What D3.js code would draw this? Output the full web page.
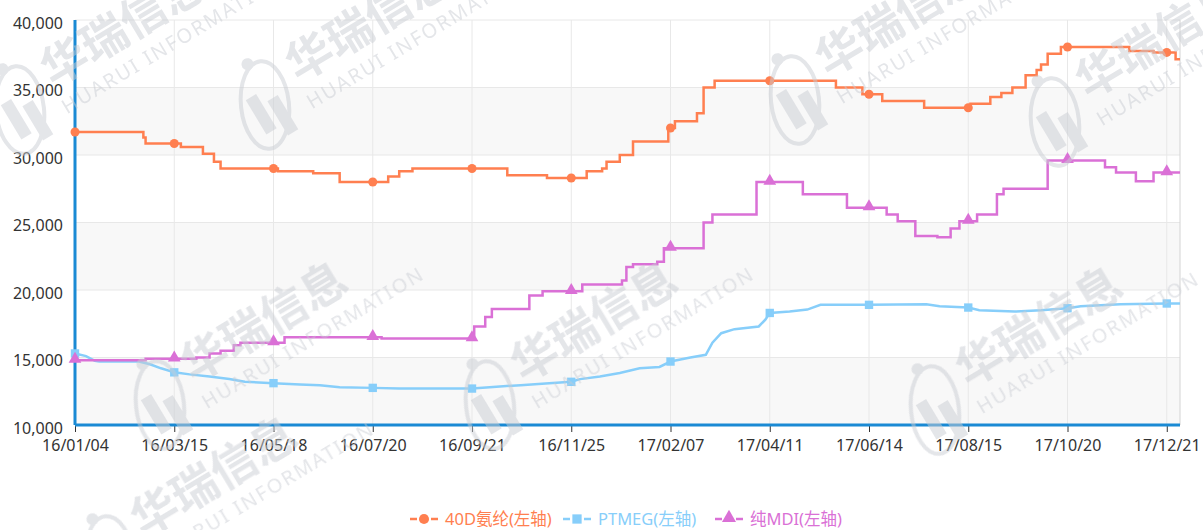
<!DOCTYPE html>
<html>
<head>
<meta charset="utf-8">
<script src="https://cdn.jsdelivr.net/npm/d3@7/dist/d3.min.js"></script>
<style>
	body { margin: 0; background: #fff; }
	text { font-family: "Noto Sans", "Noto Sans CJK SC", sans-serif; }
</style>
</head>
<body>
<div id="chart"></div>
<script>

// category labels shown under the x axis (one every 45 trading days)
let xLabels = ["16/01/04", "16/03/15", "16/05/18", "16/07/20", "16/09/21", "16/11/25",
	"17/02/07", "17/04/11", "17/06/14", "17/08/15", "17/10/20", "17/12/21"];
let pointsPerLabel = 45;
let lastIndex = 501;

let yTicks = [10000, 15000, 20000, 25000, 30000, 35000, 40000];

// price changes: [day index, price from that day on]
let spandexSteps = [
	[0, 31700], [31, 31300], [32, 30850], [48, 30600], [58, 30100], [63, 29500], [66, 29000],
	[92, 28800], [108, 28650], [120, 28000], [142, 28400], [147, 28800], [153, 29000],
	[196, 28500], [214, 28300], [232, 28800], [239, 29000], [241, 29500], [247, 30000],
	[253, 31000], [269, 32000], [272, 32500], [282, 33100], [285, 35000], [290, 35500],
	[345, 35000], [357, 34500], [366, 34000], [385, 33500], [406, 33800], [415, 34300],
	[420, 34600], [425, 35000], [431, 35900], [436, 36300], [438, 36700], [441, 37500],
	[447, 38000], [478, 37700], [489, 37600], [499, 37100]
];

// PTMEG moves more smoothly: [day index, price]
let ptmegPoints = [
	[0, 15300], [5, 15100], [9, 14750], [11, 14700], [29, 14700], [34, 14500], [39, 14200],
	[45, 13900], [52, 13750], [61, 13600], [70, 13400], [77, 13200], [90, 13100],
	[102, 13000], [111, 12950], [120, 12800], [135, 12750], [147, 12700], [180, 12700],
	[188, 12800], [202, 12950], [215, 13100], [225, 13200], [229, 13400], [238, 13600],
	[247, 13850], [256, 14200], [265, 14300], [270, 14700], [279, 15000], [286, 15200],
	[289, 16100], [293, 16800], [299, 17100], [310, 17300], [313, 17800], [315, 18300],
	[324, 18400], [332, 18550], [338, 18900], [360, 18900], [386, 18950], [392, 18800],
	[405, 18700], [410, 18500], [426, 18400], [438, 18500], [450, 18650], [456, 18800],
	[474, 18950], [495, 19000], [501, 19000]
];

let mdiSteps = [
	[0, 14800], [32, 14900], [55, 15000], [61, 15300], [66, 15500], [72, 15900], [75, 16100],
	[95, 16500], [139, 16400], [181, 17300], [186, 18000], [189, 18600], [206, 19600],
	[212, 19900], [230, 20400], [248, 20700], [250, 21700], [253, 21900], [264, 22100],
	[267, 23100], [285, 25000], [289, 25600], [309, 28000], [330, 27100], [350, 26100],
	[368, 25600], [373, 25100], [381, 24000], [391, 23900], [397, 24550], [401, 25100],
	[409, 25600], [418, 27100], [421, 27500], [441, 29600], [467, 29100], [472, 28700],
	[481, 28050], [489, 28700]
];

let seriesNames = ["40D氨纶(左轴)", "PTMEG(左轴)", "纯MDI(左轴)"];
let seriesColors = ["#ff7f50", "#87cefa", "#da70d6"];

// Margin object with properties for the four directions
let margin = {top: 20, right: 23, bottom: 105, left: 75};
let fullWidth = 1203, fullHeight = 530;
let width = fullWidth - margin.left - margin.right;
let height = fullHeight - margin.top - margin.bottom;

let svg = d3.select("#chart").append("svg")
	.attr("width", fullWidth)
	.attr("height", fullHeight);

let g = svg.append("g")
	.attr("transform", "translate(" + margin.left + "," + margin.top + ")");

let xScale = d3.scaleLinear()
	.domain([0, lastIndex])
	.range([0, width]);

let yScale = d3.scaleLinear()
	.domain([10000, 40000])
	.range([height, 0]);

let tickIdx = d3.range(0, lastIndex + 1, pointsPerLabel);

// alternating background bands
g.selectAll(".band")
	.data(yTicks.slice(0, -1).filter((d, i) => i % 2 === 0))
	.enter()
	.append("rect")
	.attr("class", "band")
	.attr("x", 0)
	.attr("width", width)
	.attr("y", d => yScale(d + 5000))
	.attr("height", d => yScale(d) - yScale(d + 5000))
	.attr("fill", "#f8f8f8");

// grid lines
g.selectAll(".hgrid")
	.data(yTicks)
	.enter()
	.append("line")
	.attr("x1", 0).attr("x2", width)
	.attr("y1", d => yScale(d)).attr("y2", d => yScale(d))
	.attr("stroke", "#e8e8e8");

g.selectAll(".vgrid")
	.data(tickIdx.concat([lastIndex]))
	.enter()
	.append("line")
	.attr("x1", d => xScale(d)).attr("x2", d => xScale(d))
	.attr("y1", 0).attr("y2", height)
	.attr("stroke", (d, i) => d === lastIndex ? "#d4d4d4" : "#e8e8e8");

// watermark
let marks = [[20, 110], [265, 105], [795, 100], [1055, 122], [160, 405], [490, 405], [935, 410], [110, 560]];
let wm = svg.append("g").attr("opacity", 0.5);
marks.forEach(function(p) {
	let w = wm.append("g")
		.attr("transform", "translate(" + p[0] + "," + p[1] + ") rotate(-31)");
	w.append("ellipse")
		.attr("rx", 24).attr("ry", 44)
		.attr("transform", "rotate(25)")
		.attr("fill", "none")
		.attr("stroke", "#c9ccd3")
		.attr("stroke-width", 4);
	w.append("circle").attr("cx", 6).attr("cy", -44).attr("r", 6).attr("fill", "#c9ccd3");
	w.append("rect").attr("x", -14).attr("y", -14).attr("width", 12).attr("height", 40).attr("fill", "#c9ccd3");
	w.append("rect").attr("x", 4).attr("y", -2).attr("width", 12).attr("height", 40).attr("fill", "#c9ccd3");
	w.append("text")
		.attr("x", 40).attr("y", -2)
		.attr("font-size", 46)
		.attr("font-weight", "bold")
		.attr("fill", "#c9ccd3")
		.style("font-family", "'Noto Sans CJK SC'")
		.text("华瑞信息");
	w.append("text")
		.attr("x", 38).attr("y", 28)
		.attr("font-size", 20)
		.attr("letter-spacing", 2)
		.attr("fill", "#c9ccd3")
		.text("HUARUI INFORMATION");
});

// axes
let yAxis = d3.axisLeft(yScale)
	.tickValues(yTicks)
	.tickFormat(d3.format(","))
	.tickSize(0)
	.tickPadding(12);

let yAxisG = g.append("g")
	.attr("class", "axis y-axis")
	.call(yAxis);
yAxisG.select(".domain").remove();
yAxisG.selectAll("text")
	.attr("fill", "#333")
	.attr("font-size", 16)
	.attr("dy", "0.5em");

let xAxis = d3.axisBottom(xScale)
	.tickValues(tickIdx)
	.tickFormat((d, i) => xLabels[i])
	.tickSizeInner(7)
	.tickSizeOuter(0)
	.tickPadding(8);

let xAxisG = g.append("g")
	.attr("class", "axis x-axis")
	.attr("transform", "translate(0," + height + ")")
	.call(xAxis);
xAxisG.select(".domain").remove();
xAxisG.selectAll("line").attr("stroke", "#333");
xAxisG.selectAll("text")
	.attr("fill", "#333")
	.attr("font-size", 16);

g.append("line")
	.attr("x1", 0).attr("x2", width)
	.attr("y1", height).attr("y2", height)
	.attr("stroke", "#1a8ad4")
	.attr("stroke-width", 3);
g.append("line")
	.attr("x1", 0).attr("x2", 0)
	.attr("y1", 0).attr("y2", height)
	.attr("stroke", "#1a8ad4")
	.attr("stroke-width", 3);

// lines
function stepValue(steps, idx) {
	let v = steps[0][1];
	steps.forEach(s => { if (s[0] <= idx) v = s[1]; });
	return v;
}

let stepLine = d3.line()
	.x(d => xScale(d[0]))
	.y(d => yScale(d[1]))
	.curve(d3.curveStepAfter);

let smoothLine = d3.line()
	.x(d => xScale(d[0]))
	.y(d => yScale(d[1]));

let spandexLine = spandexSteps.concat([[lastIndex, spandexSteps[spandexSteps.length - 1][1]]]);
let mdiLine = mdiSteps.concat([[lastIndex, mdiSteps[mdiSteps.length - 1][1]]]);

g.append("path")
	.datum(ptmegPoints)
	.attr("d", smoothLine)
	.attr("fill", "none")
	.attr("stroke", seriesColors[1])
	.attr("stroke-width", 2.5);

g.append("path")
	.datum(mdiLine)
	.attr("d", stepLine)
	.attr("fill", "none")
	.attr("stroke", seriesColors[2])
	.attr("stroke-width", 2.5);

g.append("path")
	.datum(spandexLine)
	.attr("d", stepLine)
	.attr("fill", "none")
	.attr("stroke", seriesColors[0])
	.attr("stroke-width", 2.5);

// markers at the labelled days
let symbols = [d3.symbolCircle, d3.symbolSquare, d3.symbolTriangle];
let symbolSizes = [64, 70, 70];
let markerData = [
	tickIdx.map(i => [i, stepValue(spandexSteps, i)]),
	tickIdx.map(i => [i, ptmegPoints.find(p => p[0] === i)[1]]),
	tickIdx.map(i => [i, stepValue(mdiSteps, i)])
];

markerData.forEach(function(pts, k) {
	g.selectAll(".marker" + k)
		.data(pts)
		.enter()
		.append("path")
		.attr("class", "marker" + k)
		.attr("d", d3.symbol().type(symbols[k]).size(symbolSizes[k]))
		.attr("transform", d => "translate(" + xScale(d[0]) + "," + (yScale(d[1]) - (k === 2 ? 1 : 0)) + ")")
		.attr("fill", seriesColors[k]);
});

// legend
let legend = svg.append("g").attr("transform", "translate(0,519)");
let legendX = [410, 563, 715];
seriesNames.forEach(function(name, k) {
	let item = legend.append("g").attr("transform", "translate(" + legendX[k] + ",0)");
	item.append("line").attr("x1", 0).attr("x2", 7).attr("y1", 0).attr("y2", 0)
		.attr("stroke", seriesColors[k]).attr("stroke-width", 2.5);
	item.append("line").attr("x1", 21).attr("x2", 28).attr("y1", 0).attr("y2", 0)
		.attr("stroke", seriesColors[k]).attr("stroke-width", 2.5);
	item.append("path")
		.attr("d", d3.symbol().type(symbols[k]).size(symbolSizes[k] + 16))
		.attr("transform", "translate(14," + (k === 2 ? -1 : 0) + ")")
		.attr("fill", seriesColors[k]);
	item.append("text")
		.attr("x", 35)
		.attr("y", 6)
		.attr("font-size", 16.5)
		.attr("fill", seriesColors[k])
		.text(name);
});

</script>
</body>
</html>
